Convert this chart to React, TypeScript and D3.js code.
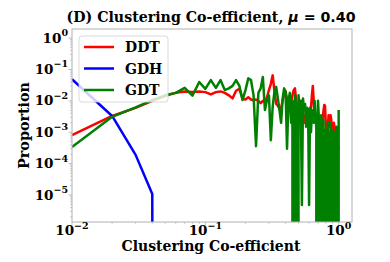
import * as d3 from "d3";

// x grid of the clustering coefficient histogram (bin centres)
const coeffs = [
  0.01, 0.02, 0.03, 0.04, 0.05, 0.06, 0.07, 0.08, 0.09, 0.1,
  0.11, 0.12, 0.13, 0.14, 0.15, 0.16, 0.17, 0.18, 0.19, 0.2,
  0.21, 0.22, 0.23, 0.24, 0.25, 0.26, 0.27, 0.28, 0.29, 0.3,
  0.31, 0.32, 0.33, 0.34, 0.35, 0.36, 0.37, 0.38, 0.39, 0.4,
  0.41, 0.42, 0.43, 0.44, 0.45, 0.46, 0.47, 0.48, 0.49, 0.5,
  0.51, 0.52, 0.53, 0.54, 0.55, 0.56, 0.57, 0.58, 0.59, 0.6,
  0.61, 0.62, 0.63, 0.64, 0.65, 0.66, 0.67, 0.68, 0.69, 0.7,
  0.71, 0.72, 0.73, 0.74, 0.75, 0.76, 0.77, 0.78, 0.79, 0.8,
  0.81, 0.82, 0.83, 0.84, 0.85, 0.86, 0.87, 0.88, 0.89, 0.9,
  0.91, 0.92, 0.93, 0.94, 0.95, 0.96, 0.97, 0.98, 0.99, 1.0,
];

const ddt = [
  8.1e-4, 3.3e-3, 6.0e-3, 1.0e-2, 1.45e-2, 1.8e-2, 2.0e-2, 1.9e-2, 2.0e-2, 1.9e-2,
  1.6e-2, 1.9e-2, 2.0e-2, 1.8e-2, 1.5e-2, 1.2e-2, 2.1e-2, 2.4e-2, 1.2e-2, 1.1e-2,
  1.3e-2, 1.1e-2, 1.05e-2, 1.1e-2, 1.0e-2, 8.5e-3, 1.0e-2, 9.0e-3, 1.3e-2, 2.2e-2,
  3.5e-2, 6.5e-2, 2.0e-2, 8.0e-3, 7.0e-3, 5.5e-3, 6.0e-3, 1.0e-2, 1.6e-2, 2.0e-2,
  1.2e-2, 8.0e-3, 6.0e-3, 9.0e-3, 1.5e-2, 2.2e-2, 2.5e-2, 1.0e-2, 2.5e-3, 4.0e-3,
  6.0e-3, 4.5e-3, 5.0e-3, 3.0e-3, 2.0e-3, 3.5e-3, 4.0e-3, 2.5e-3, 2.0e-3, 2.5e-3,
  4.0e-3, 6.0e-3, 1.5e-2, 3.0e-2, 1.0e-2, 3.0e-3, 2.0e-3, 2.5e-3, 1.7e-3, 2.5e-3,
  3.0e-3, 2.0e-3, 1.5e-3, 1.2e-3, 1.8e-3, 2.5e-3, 5.0e-3, 7.4e-3, 7.0e-3, 2.0e-3,
  1.0e-3, 8.0e-4, 1.5e-3, 3.5e-3, 2.5e-3, 1.5e-3, 3.5e-3, 2.5e-3, 8.0e-4, 6.0e-4,
  1.2e-3, 2.0e-3, 1.5e-3, 1.0e-3, 6.0e-4, 1.2e-3, 8.0e-4, 5.0e-4, 4.0e-4, 2.7e-4,
];

// GDH only has mass at the smallest coefficients, then zero
const gdh = [4.9e-2, 3.3e-3, 1.9e-4, 1.07e-5, 0];

const gdt = [
  3.4e-4, 3.1e-3, 6.2e-3, 1.05e-2, 1.5e-2, 1.8e-2, 2.6e-2, 1.46e-2, 4.0e-2, 2.4e-2,
  4.6e-2, 2.6e-2, 4.6e-2, 2.2e-2, 2.5e-2, 3.0e-2, 4.6e-2, 3.0e-2, 1.06e-2, 2.2e-2,
  5.2e-2, 4.6e-2, 1.5e-2, 3.6e-4, 1.8e-2, 2.5e-2, 5.8e-2, 5.1e-3, 1.06e-2, 1.5e-2,
  5.6e-4, 6.6e-3, 2.0e-2, 2.8e-2, 1.2e-2, 5.1e-3, 2.0e-3, 1.2e-2, 2.5e-2, 1.95e-2,
  3.0e-4, 1.0e-2, 1.8e-2, 2.0e-3, 1.0e-2, 0, 1.5e-2, 8.0e-3, 0, 1.5e-2,
  5.0e-3, 1.0e-2, 4.8e-6, 1.2e-2, 5.1e-3, 8.0e-3, 1.5e-3, 6.0e-3, 5.0e-3, 4.8e-6,
  6.0e-3, 1.0e-3, 4.5e-3, 5.0e-3, 2.0e-3, 1.0e-2, 4.0e-3, 1.2e-3, 0, 1.0e-2,
  3.0e-3, 0, 2.0e-3, 3.5e-3, 0, 1.5e-3, 2.5e-3, 0, 8.0e-4, 1.2e-3,
  0, 5.0e-4, 2.0e-3, 0, 1.0e-3, 4.8e-6, 2.0e-3, 0, 1.2e-3, 5.0e-4,
  0, 1.0e-3, 3.3e-6, 0, 8.0e-4, 1.5e-3, 0, 6.0e-4, 0, 5.1e-3,
];

const seriesNames = ["DDT", "GDH", "GDT"];
const seriesColors = ["#ff0000", "#0000ff", "#008000"];
const xTickExps = [-2, -1, 0];
const yTickExps = [0, -1, -2, -3, -4, -5];

const W = 390;
const H = 262;
const left = 72;
const right = 352;
const top = 29;
const bottom = 222;
const serif = "DejaVu Serif";
const spine = "#b0b0b0";

const x = d3.scaleLog().domain([0.01, 1.259]).range([left, right]);
const y = d3
  .scaleLog()
  .domain([Math.pow(10, -5.86), Math.pow(10, 0.29)])
  .range([bottom, top]);

// matplotlib clips non-positive values far below the axes
const yPos = (v: number) => (v > 0 ? y(v) : y(1e-300));

const line = d3
  .line<number>()
  .x((_, i) => x(coeffs[i]))
  .y((d) => yPos(d));

const sup = (e: number) => (e < 0 ? "\u2212" + Math.abs(e) : String(e));

export default function App() {
  const series = [ddt, gdh, gdt];
  const xMinor = x.ticks().filter((t) => !xTickExps.some((e) => Math.abs(t - Math.pow(10, e)) < 1e-9));
  const yMinor = y.ticks().filter((t) => !yTickExps.some((e) => Math.abs(t / Math.pow(10, e) - 1) < 1e-6));

  return (
    <svg
      width={W}
      height={H}
      style={{ position: "absolute", left: 0, top: 0, background: "#fff" }}
      fontFamily={serif}
      fontWeight="bold"
    >
      <defs>
        <clipPath id="plot">
          <rect x={left} y={top} width={right - left} height={bottom - top} />
        </clipPath>
      </defs>

      {/* lines */}
      <g clipPath="url(#plot)">
        {series.map((s, i) => (
          <path
            key={seriesNames[i]}
            d={line(s) || ""}
            fill="none"
            stroke={seriesColors[i]}
            strokeWidth={2.5}
            strokeLinejoin="round"
          />
        ))}
      </g>

      {/* frame */}
      <rect x={left} y={top} width={right - left} height={bottom - top} fill="none" stroke={spine} strokeWidth={1} />

      {/* x ticks */}
      {xMinor.map((t) => (
        <line key={"xm" + t} x1={x(t)} x2={x(t)} y1={bottom} y2={bottom + 2} stroke={spine} strokeWidth={0.6} />
      ))}
      {xTickExps.map((e) => {
        const px = x(Math.pow(10, e));
        return (
          <g key={"xt" + e}>
            <line x1={px} x2={px} y1={bottom} y2={bottom + 3.5} stroke={spine} strokeWidth={0.8} />
            <text x={px} y={235} textAnchor="middle" fontSize={13.5}>
              10
              <tspan dy={-6.5} fontSize={9.5}>
                {sup(e)}
              </tspan>
            </text>
          </g>
        );
      })}

      {/* y ticks */}
      {yMinor.map((t) => (
        <line key={"ym" + t} x1={left - 2} x2={left} y1={y(t)} y2={y(t)} stroke={spine} strokeWidth={0.6} />
      ))}
      {yTickExps.map((e) => {
        const py = y(Math.pow(10, e));
        return (
          <g key={"yt" + e}>
            <line x1={left - 3.5} x2={left} y1={py} y2={py} stroke={spine} strokeWidth={0.8} />
            <text x={68} y={py + 4.5} textAnchor="end" fontSize={13.5}>
              10
              <tspan dy={-6.5} fontSize={9.5}>
                {sup(e)}
              </tspan>
            </text>
          </g>
        );
      })}

      {/* legend */}
      <rect x={79} y={36} width={89} height={66} rx={3} fill="#fff" fillOpacity={0.8} stroke="#d0d0d0" strokeWidth={0.8} />
      {seriesNames.map((n, i) => (
        <g key={"lg" + n}>
          <line x1={84} x2={114} y1={47 + i * 21.5} y2={47 + i * 21.5} stroke={seriesColors[i]} strokeWidth={2.5} />
          <text x={125} y={47 + i * 21.5 + 5} fontSize={14}>
            {n}
          </text>
        </g>
      ))}

      {/* title */}
      <text x={(left + right) / 2 - 1} y={21.5} textAnchor="middle" fontSize={14.2}>
        (D) Clustering Co-efficient,{" "}
        <tspan fontFamily="DejaVu Sans" fontStyle="italic">
          μ
        </tspan>
        <tspan fontFamily="DejaVu Sans"> = 0.40</tspan>
      </text>

      {/* axis labels */}
      <text x={211} y={251} textAnchor="middle" fontSize={14}>
        Clustering Co-efficient
      </text>
      <text transform={`translate(29,${(top + bottom) / 2}) rotate(-90)`} textAnchor="middle" fontSize={14.3}>
        Proportion
      </text>
    </svg>
  );
}
